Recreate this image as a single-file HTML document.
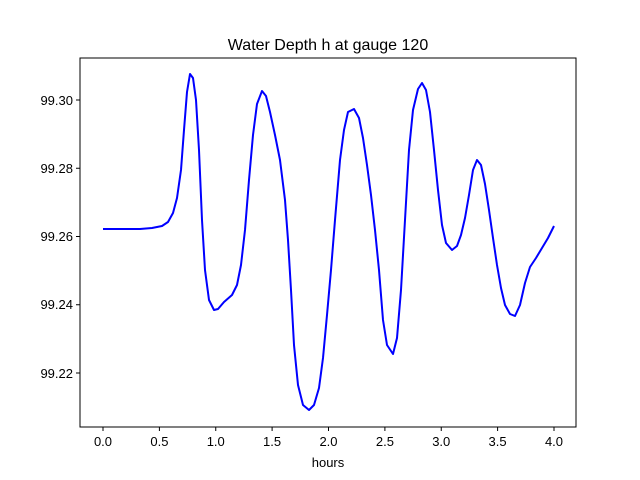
<!DOCTYPE html>
<html><head><meta charset="utf-8"><style>body{margin:0;background:#fff}svg{display:block}text{font-family:"Liberation Sans","DejaVu Sans",sans-serif;fill:#000}</style></head>
<body>
<svg width="640" height="480" viewBox="0 0 640 480">
<rect width="640" height="480" fill="#fff"/>
<text x="328" y="50" font-size="16" text-anchor="middle">Water Depth h at gauge 120</text>
<g stroke="#000" stroke-width="1">
<line x1="103" y1="427" x2="103" y2="431"/><line x1="159.4" y1="427" x2="159.4" y2="431"/><line x1="215.75" y1="427" x2="215.75" y2="431"/><line x1="272.1" y1="427" x2="272.1" y2="431"/><line x1="328.5" y1="427" x2="328.5" y2="431"/><line x1="384.9" y1="427" x2="384.9" y2="431"/><line x1="441.25" y1="427" x2="441.25" y2="431"/><line x1="497.6" y1="427" x2="497.6" y2="431"/><line x1="554" y1="427" x2="554" y2="431"/>
<line x1="76" y1="100" x2="80" y2="100"/><line x1="76" y1="168.25" x2="80" y2="168.25"/><line x1="76" y1="236.5" x2="80" y2="236.5"/><line x1="76" y1="304.75" x2="80" y2="304.75"/><line x1="76" y1="373" x2="80" y2="373"/>
</g>
<g font-size="13" text-anchor="middle">
<text x="103" y="446">0.0</text><text x="159.4" y="446">0.5</text><text x="215.75" y="446">1.0</text><text x="272.1" y="446">1.5</text><text x="328.5" y="446">2.0</text><text x="384.9" y="446">2.5</text><text x="441.25" y="446">3.0</text><text x="497.6" y="446">3.5</text><text x="554" y="446">4.0</text>
<text x="328" y="467">hours</text>
</g>
<g font-size="13" text-anchor="end">
<text x="73" y="105">99.30</text><text x="73" y="173">99.28</text><text x="73" y="241">99.26</text><text x="73" y="309">99.24</text><text x="73" y="378">99.22</text>
</g>
<polyline fill="none" stroke="#0000ff" stroke-width="2" stroke-linejoin="round" points="103,229 140,229 152,228 162,226 168,222 173,213 177,198 181,170 184,130 187,92 190,74 193,78 196,100 199,150 202,220 205,270 209,300 214,310 218,309 224,302 232,295 237,285 241,265 245,230 249,180 253,135 257,104 262,91 266,96 270,112 275,135 280,160 285,200 288,240 291,290 294,345 298,385 303,405 309,410 314,405 319,388 323,358 327,315 331,270 335,220 340,160 344,130 348,112 354,109 359,118 363,138 367,165 371,195 375,230 379,270 383,320 387,345 393,354 397,338 401,290 405,220 409,150 413,110 418,89 422,83 426,90 430,112 434,150 438,190 442,225 446,243 452,250 457,246 461,235 465,218 469,195 473,170 477,160 481,165 485,184 489,210 493,238 497,265 501,288 505,305 510,314 515,316 520,305 525,283 530,267 536,258 542,248 548,238 554,226"/>
<rect x="80" y="58" width="496" height="369" fill="none" stroke="#000" stroke-width="1"/>
</svg>
</body></html>
